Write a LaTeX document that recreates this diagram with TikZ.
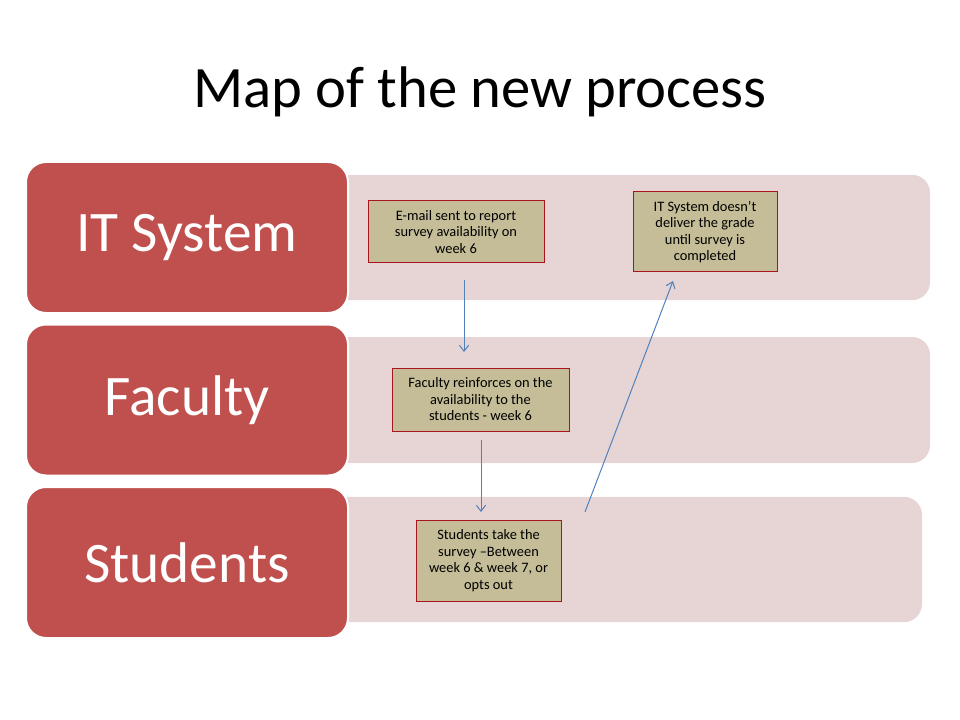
\documentclass[tikz,border=0pt]{standalone}
\usepackage{fontspec}
\setmainfont{Carlito}
\usetikzlibrary{arrows.meta}
\definecolor{lanered}{RGB}{192,80,77}
\definecolor{lanepink}{RGB}{231,213,213}
\definecolor{boxtan}{RGB}{196,189,151}
\definecolor{boxborder}{RGB}{170,20,30}
\definecolor{arrowblue}{RGB}{79,129,189}
\tikzset{
  lanebg/.style={rectangle, rounded corners=13.5pt, fill=lanepink, draw=none, minimum width=450pt, minimum height=94pt, inner sep=0pt},
  lanehead/.style={rectangle, rounded corners=15pt, fill=lanered, draw=white, line width=1.5pt, minimum width=241.5pt, minimum height=113.25pt, text=white, font=\fontsize{43}{50}\selectfont, inner sep=0pt},
  stepbox/.style={rectangle, fill=boxtan, draw=boxborder, line width=0.75pt, align=center, font=\fontsize{10.8}{12.4}\selectfont, inner sep=0pt},
  flow/.style={draw=arrowblue, line width=0.75pt, -{Straight Barb[length=4.5pt,width=7pt]}}
}
\begin{document}
\begin{tikzpicture}[x=0.75pt,y=-0.75pt]
\useasboundingbox (0,0) rectangle (960,720);
\node[font=\fontsize{44}{52}\selectfont] (title) at (480,92) {Map of the new process};
% lane backgrounds
\node[lanebg] (l1) at (630,237.5) {};
\node[lanebg, minimum height=94.5pt] (l2) at (630,400) {};
\node[lanebg, minimum width=444pt] (l3) at (626,559.5) {};
% lane heads
\node[lanehead] (h1) at (187,237.5) {IT System};
\node[lanehead] (h2) at (187,400) {Faculty};
\node[lanehead] (h3) at (187,562.5) {Students};
% steps
\node[stepbox, minimum width=132pt, minimum height=46.5pt] (b1) at (456,232) {E-mail sent to report\\survey availability on\\week 6};
\node[stepbox, minimum width=108pt, minimum height=60pt] (b4) at (705,232) {IT System doesn’t\\deliver the grade\\until survey is\\completed};
\node[stepbox, minimum width=132.75pt, minimum height=47.25pt] (b2) at (480.5,399.5) {Faculty reinforces on the\\availability to the\\students - week 6};
\node[stepbox, minimum width=108.75pt, minimum height=60.75pt] (b3) at (488.5,560.5) {Students take the\\survey –Between\\week 6 \& week 7, or\\opts out};
% connector ends
\coordinate (a1s) at (464,280);
\coordinate (a1e) at (464,352);
\coordinate (a2s) at (481,440);
\coordinate (a2e) at (481,512);
\coordinate (a3s) at (585,512);
\coordinate (a3e) at (673,281);
\draw[flow] (a1s) -- (a1e);
\draw[flow] (a2s) -- (a2e);
\draw[flow] (a3s) -- (a3e);
\end{tikzpicture}
\end{document}
